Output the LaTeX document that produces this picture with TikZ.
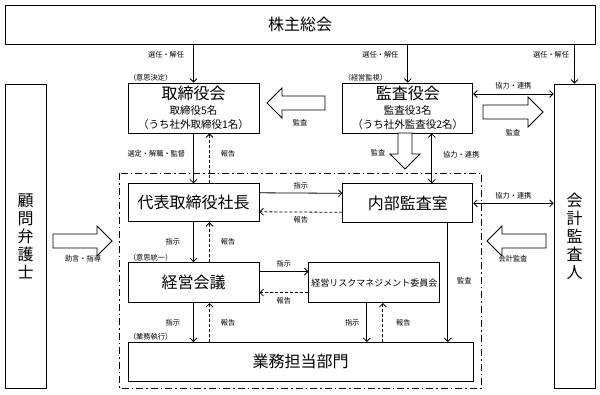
\documentclass[tikz,border=0pt]{standalone}
\usepackage{fontspec}
\setmainfont{Noto Sans CJK JP}
\usetikzlibrary{arrows.meta, positioning}
\newcommand{\subline}[1]{{\fontsize{10.5}{12}\selectfont #1}}
\tikzset{
  every picture/.style={line width=0.8pt},
  box/.style={draw, fill=white, align=center, inner sep=0pt, minimum width=131pt, font=\fontsize{16}{18}\selectfont},
  tallbox/.style={box, minimum width=41pt, minimum height=304pt},
  arrow/.style={-{Straight Barb[length=3.5pt, width=7pt]}},
  back/.style={arrow, densely dashed},
  twoway/.style={{Straight Barb[length=3.5pt, width=7pt]}-{Straight Barb[length=3.5pt, width=7pt]}},
  note/.style={font=\fontsize{7.2}{8}\selectfont, inner sep=1pt},
  tag/.style={note, anchor=south west},
  dashframe/.style={dash pattern=on 7pt off 3pt on 1.5pt off 3pt},
  pics/fatarrow/.style={code={
    \draw[fill=white] (0,-7) -- ({#1-15},-7) -- ({#1-15},-15) -- (#1,0) -- ({#1-15},15) -- ({#1-15},7) -- (0,7) -- cycle;
  }},
}

\begin{document}
\begin{tikzpicture}[x=1pt, y=-1pt]
  \useasboundingbox (0,0) rectangle (600,394);
  % boxes
  \node[box, minimum width=590pt, minimum height=39pt] (soukai) at (300,24.5) {株主総会};
  \node[box, minimum height=50pt] (torikai) at (193.5,108) {取締役会\\[-3pt]\subline{取締役5名}\\[-4pt]\subline{（うち社外取締役1名）}};
  \node[box, minimum width=130pt, minimum height=50pt, right=83pt of torikai] (kansakai) {監査役会\\[-3pt]\subline{監査役3名}\\[-4pt]\subline{（うち社外監査役2名）}};
  \node[box, minimum height=38pt, below=50pt of torikai] (shacho) {代表取締役社長};
  \node[box, minimum width=130pt, minimum height=39pt, below=50pt of kansakai] (naibu) {内部監査室};
  \node[box, minimum height=40pt, below=40pt of shacho] (keiei) {経営会議};
  \node[box, minimum height=40pt, right=49pt of keiei, font=\fontsize{9}{10}\selectfont] (risk) {経営リスクマネジメント委員会};
  \node[box, minimum width=345pt, minimum height=39pt, below=39pt of keiei.south west, anchor=north west] (gyomu) {業務担当部門};
  \node[tallbox] (komon) at (25.5,236) {顧\\問\\弁\\護\\士};
  \node[tallbox] (kaikei) at (574.5,236) {会\\計\\監\\査\\人};
  \draw[dashframe] (119,173) rectangle (481,388);

  % tags
  \node[tag] at (torikai.north west) {（意思決定）};
  \node[tag] at (kansakai.north west) {（経営監視）};
  \node[tag] at (keiei.north west) {（意思統一）};
  \node[tag] at (gyomu.north west) {（業務執行）};

  % from shareholders
  \draw[arrow] (torikai.north |- soukai.south) -- node[note, left=8pt, pos=0.26] {選任・解任} (torikai.north);
  \draw[arrow] (kansakai.north |- soukai.south) -- node[note, left=8pt, pos=0.26] {選任・解任} (kansakai.north);
  \draw[arrow] (kaikei.north |- soukai.south) -- node[note, left=4pt, pos=0.26] {選任・解任} (kaikei.north);

  % board and president
  \coordinate (up1) at ([xshift=16pt]torikai.south);
  \coordinate (up2) at ([xshift=16pt]shacho.south);
  \coordinate (up3) at ([xshift=16pt]keiei.south);
  \draw[arrow] (torikai.south) -- node[note, left=7pt, pos=0.4] {選定・解職・監督} (shacho.north);
  \draw[back] (up1 |- shacho.north) -- node[note, right=10pt, pos=0.6] {報告} (up1);
  \draw[arrow] (shacho.south) -- node[note, left=12pt] {指示} (keiei.north);
  \draw[back] (up2 |- keiei.north) -- node[note, right=10pt] {報告} (up2);
  \draw[arrow] (keiei.south) -- node[note, left=12pt] {指示} (keiei.south |- gyomu.north);
  \draw[back] (up3 |- gyomu.north) -- node[note, right=10pt] {報告} (up3);

  % side connections
  \draw[arrow] ([yshift=10pt]shacho.east) -- node[note, above=3pt] {指示} ([yshift=10pt]naibu.west);
  \draw[back] ([yshift=-9pt]naibu.west) -- node[note, below=3pt] {報告} ([yshift=-9pt]shacho.east);
  \draw[arrow] ([yshift=11pt]keiei.east) -- node[note, above=3pt] {指示} ([yshift=11pt]risk.west);
  \draw[back] ([yshift=-10pt]risk.west) -- node[note, below=3pt] {報告} ([yshift=-10pt]keiei.east);

  % risk committee and audit office to departments
  \coordinate (rk1) at ([xshift=-7.5pt]risk.south);
  \coordinate (rk2) at ([xshift=8.5pt]risk.south);
  \coordinate (nb1) at ([xshift=40pt]naibu.south);
  \draw[arrow] (rk1) -- node[note, left=6pt] {指示} (rk1 |- gyomu.north);
  \draw[back] (rk2 |- gyomu.north) -- node[note, right=12pt] {報告} (rk2);
  \draw[arrow] (nb1) -- node[note, right=8pt, pos=0.48] {監査} (nb1 |- gyomu.north);

  % cooperation
  \coordinate (kb1) at ([xshift=24pt]kansakai.south);
  \coordinate (kb2) at ([yshift=14pt]kansakai.east);
  \draw[twoway] (kb1) -- node[note, right=10pt, pos=0.42] {協力・連携} (kb1 |- naibu.north);
  \draw[twoway] (kb2) -- node[note, above=3pt] {協力・連携} (kb2 -| kaikei.west);
  \draw[twoway] (naibu.east) -- node[note, above=3pt] {協力・連携} (naibu.east -| kaikei.west);

  % block arrows
  \pic[rotate=180] at (325,103) {fatarrow=58};
  \node[note] (lb1) at (300,123) {監査};
  \pic at (483,112) {fatarrow=60};
  \node[note] (lb2) at (513,133) {監査};
  \pic[rotate=-90] at (405,133) {fatarrow=36};
  \node[note] (lb3) at (378,153) {監査};
  \pic at (53,241) {fatarrow=59};
  \node[note] (lb4) at (83,259) {助言・指導};
  \pic[rotate=180] at (546,241) {fatarrow=59};
  \node[note] (lb5) at (513,259) {会計監査};
\end{tikzpicture}
\end{document}
